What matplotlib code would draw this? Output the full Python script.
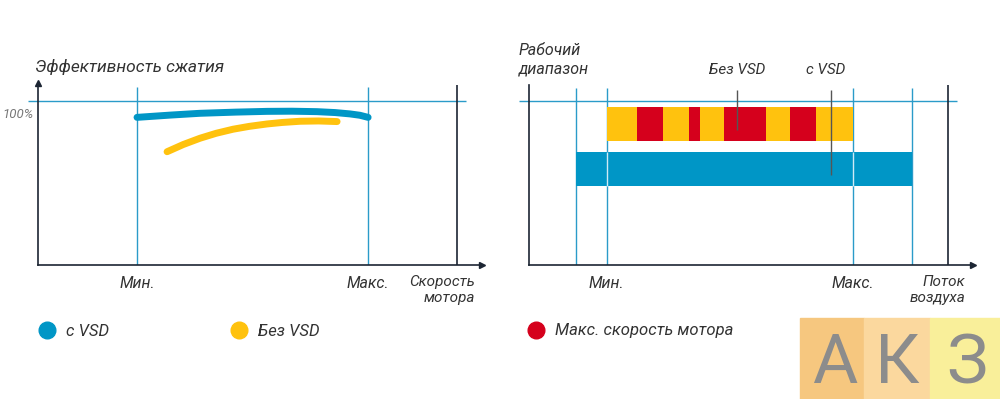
import matplotlib
matplotlib.use("Agg")
import matplotlib.pyplot as plt
from matplotlib.lines import Line2D
from matplotlib.patches import Rectangle

plt.rcParams["font.family"] = ["Roboto", "DejaVu Sans"]
plt.rcParams["font.style"] = "italic"

# ---- colours ----
BLUE = "#0096c6"
YELLOW = "#ffc20e"
RED = "#d5001c"
GRID_BLUE = "#2a9bc9"
DARK = "#1c2533"
TEXT = "#333333"

# ---- left chart: compression efficiency vs motor speed ----
speed_vsd = [30, 40, 49, 60, 69.4, 77, 84.5, 90, 94.5, 97.5, 100]
eff_vsd = [98.4, 99.9, 101.1, 101.9, 102.4, 102.5, 102.2, 101.6, 100.7, 99.8, 98.4]
speed_novsd = [39.1, 44, 49.1, 54, 59.1, 64, 69.4, 74, 79.4, 85, 90.6]
eff_novsd = [75.5, 80.3, 84.5, 87.8, 90.5, 92.4, 94.0, 95.0, 95.8, 96.0, 95.6]
speed_ticks = [30, 100]
speed_tick_labels = ["Мин.", "Макс."]
speed_limit = 127

# ---- right chart: operating range vs airflow ----
flow_ticks = [24, 100]
flow_tick_labels = ["Мин.", "Макс."]
range_vsd = (14.5, 118.2)
range_novsd = (24, 100)
red_start = [33.3, 49.4, 60.2, 80.6]
red_end = [41.4, 52.8, 73.1, 88.6]
flow_limit = 129.3

fig = plt.figure(figsize=(10, 3.99), dpi=100)
W, H = 1000, 399


def px_axes(x0, y0, x1, y1):
    return fig.add_axes([x0 / W, 1 - y1 / H, (x1 - x0) / W, (y1 - y0) / H])


def base_axes(ax, xmax, ymax, yarrow):
    ax.set_xlim(0, xmax)
    ax.set_ylim(0, ymax)
    for s in ["top", "right"]:
        ax.spines[s].set_visible(False)
    for s in ["left", "bottom"]:
        ax.spines[s].set_color(DARK)
        ax.spines[s].set_linewidth(1.2)
    ax.set_yticks([])
    ax.tick_params(axis="x", length=0, pad=8, labelsize=11.5, labelcolor=TEXT)
    ax.plot(1, 0, ">", color=DARK, ms=5, transform=ax.get_yaxis_transform(), clip_on=False)
    if yarrow:
        ax.plot(0, 1, "^", color=DARK, ms=5, transform=ax.get_xaxis_transform(), clip_on=False)
    ax.patch.set_alpha(0)


# left
ax1 = px_axes(38, 83, 482, 265)
base_axes(ax1, 134.5, 121.3, True)
ax1.hlines(109.3, -3, 129.7, color=GRID_BLUE, lw=1, clip_on=False)
ax1.vlines(speed_ticks, 0, 118.7, color=GRID_BLUE, lw=1)
ax1.vlines(speed_limit, 0, 120, color=DARK, lw=1.2)
ax1.plot(speed_vsd, eff_vsd, color=BLUE, lw=5, solid_capstyle="round", zorder=3)
ax1.plot(speed_novsd, eff_novsd, color=YELLOW, lw=5, solid_capstyle="round", zorder=3)
ax1.set_xticks(speed_ticks, speed_tick_labels)
ax1.text(-1.5, 100, "100%", ha="right", va="center", fontsize=9.5, color="#777777")
ax1.text(-1, 132, "Эффективность сжатия", ha="left", va="center", fontsize=12.5, color=TEXT)
ax1.text(132.4, -16.5, "Скорость\nмотора", ha="right", va="center", fontsize=11,
         color=TEXT, linespacing=1.15)

# right
ax2 = px_axes(529, 85, 973, 265)
base_axes(ax2, 137, 120, False)
ax2.hlines(109.3, -3.1, 132.1, color=GRID_BLUE, lw=1, clip_on=False)
ax2.barh(94, range_novsd[1] - range_novsd[0], left=range_novsd[0], height=22.6,
         color=YELLOW, zorder=2)
ax2.barh([94] * len(red_start), [e - s for s, e in zip(red_start, red_end)],
         left=red_start, height=22.6, color=RED, zorder=2)
ax2.barh(64, range_vsd[1] - range_vsd[0], left=range_vsd[0], height=22.6,
         color=BLUE, zorder=2)
ax2.vlines(list(range_vsd) + flow_ticks, 0, 118, color=GRID_BLUE, lw=1, zorder=1)
ax2.vlines(flow_ticks, 52.7, 75.3, color="#cfeaf5", lw=1, zorder=3)
ax2.vlines(flow_limit, 0, 120, color=DARK, lw=1.2)
ax2.set_xticks(flow_ticks, flow_tick_labels)
ax2.text(-3.1, 136.7, "Рабочий\nдиапазон", ha="left", va="center", fontsize=11.5,
         color=TEXT, linespacing=1.3)
ax2.text(64.2, 130, "Без VSD", ha="center", va="center", fontsize=11, color=TEXT)
ax2.text(91.4, 130, "с VSD", ha="center", va="center", fontsize=11, color=TEXT)
ax2.vlines(64.2, 90, 116.7, color="#555555", lw=1, zorder=4)
ax2.vlines(93.2, 60, 116.7, color="#555555", lw=1, zorder=4)
ax2.text(134.5, -16.5, "Поток\nвоздуха", ha="right", va="center", fontsize=11,
         color=TEXT, linespacing=1.15)

# legends
legend_items = [("с VSD", BLUE, 47), ("Без VSD", YELLOW, 239),
                ("Макс. скорость мотора", RED, 536)]
for label, color, xc in legend_items:
    h = Line2D([], [], marker="o", ls="none", ms=12, color=color)
    fig.legend([h], [label], loc="center left",
               bbox_to_anchor=((xc - 8) / W, 1 - 331 / H), frameon=False,
               fontsize=12, handlelength=1, handletextpad=0.6, borderpad=0,
               borderaxespad=0, labelcolor=TEXT)

# logo
logo_blocks = [(800, 864, "#f6c77f"), (864, 930, "#fbd89e"), (930, 1000, "#f9ef9a")]
for x0, x1, c in logo_blocks:
    fig.patches.append(Rectangle((x0 / W, 0), (x1 - x0) / W, 81 / H, color=c,
                                 transform=fig.transFigure, zorder=0))
for ch, xc in [("А", 835), ("К", 897), ("З", 967)]:
    fig.text(xc / W, 1 - 383 / H, ch, ha="center", va="baseline", fontsize=50,
             color="#8c8c8c", style="normal",
             family=["Liberation Sans Narrow", "Roboto", "DejaVu Sans"])

fig.savefig("out.png", dpi=100)
